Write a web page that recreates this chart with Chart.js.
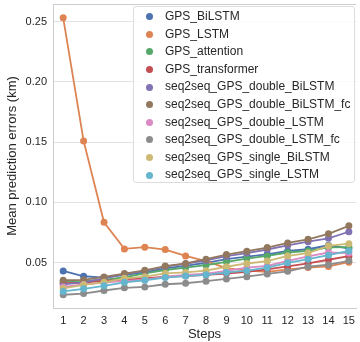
<!DOCTYPE html>
<html>
<head>
<meta charset="utf-8">
<script src="https://cdn.jsdelivr.net/npm/chart.js@4.4.1/dist/chart.umd.min.js"></script>
<style>
  body { margin: 0; background: #fff; overflow: hidden; }
  #wrap { position: relative; width: 360px; height: 342px; }
  #legend {
    position: absolute; left: 133px; top: 6px; width: 222px; height: 177px;
    border: 1px solid #dddddd; border-radius: 3px; background: rgba(255,255,255,0.85);
    font-family: "Liberation Sans", Arial, sans-serif; font-size: 12px; color: #262626;
    box-sizing: border-box; padding-top: 1px;
  }
  .row { height: 17.6px; line-height: 17.6px; white-space: nowrap; position: relative; }
  .dot { position: absolute; left: 12px; top: 5.3px; width: 7px; height: 7px; border-radius: 50%; }
  .lbl { position: absolute; left: 31px; }
</style>
</head>
<body>
<div id="wrap">
  <canvas id="myChart" width="360" height="342"></canvas>
  <div id="legend"></div>
</div>
<script>
const steps = [1, 2, 3, 4, 5, 6, 7, 8, 9, 10, 11, 12, 13, 14, 15];
const yTicks = [0.05, 0.10, 0.15, 0.20, 0.25];

const seriesNames = [
  'GPS_BiLSTM', 'GPS_LSTM', 'GPS_attention', 'GPS_transformer',
  'seq2seq_GPS_double_BiLSTM', 'seq2seq_GPS_double_BiLSTM_fc',
  'seq2seq_GPS_double_LSTM', 'seq2seq_GPS_double_LSTM_fc',
  'seq2seq_GPS_single_BiLSTM', 'seq2seq_GPS_single_LSTM'
];
const colors = ['#4C72B0', '#DD8452', '#55A868', '#C44E52', '#8172B3',
                '#937860', '#DA8BC3', '#8C8C8C', '#CCB974', '#64B5CD'];

const gpsBiLSTM      = [0.0432, 0.0388, 0.0377, 0.0400, 0.0420, 0.0453, 0.0475, 0.0500, 0.0530, 0.0550, 0.0570, 0.0598, 0.0612, 0.0645, 0.0620];
const gpsLSTM        = [0.2530, 0.1510, 0.0836, 0.0615, 0.0629, 0.0609, 0.0557, 0.0514, 0.0455, 0.0435, 0.0425, 0.0445, 0.0460, 0.0470, 0.0505];
const gpsAttention   = [0.0345, 0.0350, 0.0358, 0.0380, 0.0412, 0.0440, 0.0459, 0.0481, 0.0508, 0.0535, 0.0557, 0.0585, 0.0598, 0.0627, 0.0630];
const gpsTransformer = [0.0330, 0.0335, 0.0350, 0.0360, 0.0370, 0.0385, 0.0390, 0.0400, 0.0410, 0.0425, 0.0445, 0.0470, 0.0495, 0.0525, 0.0555];
const dblBiLSTM      = [0.0320, 0.0338, 0.0370, 0.0405, 0.0432, 0.0468, 0.0490, 0.0519, 0.0555, 0.0580, 0.0610, 0.0645, 0.0675, 0.0703, 0.0757];
const dblBiLSTMfc    = [0.0355, 0.0358, 0.0383, 0.0410, 0.0437, 0.0473, 0.0494, 0.0530, 0.0568, 0.0596, 0.0626, 0.0664, 0.0694, 0.0740, 0.0806];
const dblLSTM        = [0.0300, 0.0320, 0.0335, 0.0350, 0.0358, 0.0385, 0.0400, 0.0410, 0.0432, 0.0459, 0.0475, 0.0516, 0.0552, 0.0585, 0.0580];
const dblLSTMfc      = [0.0235, 0.0245, 0.0270, 0.0292, 0.0300, 0.0322, 0.0330, 0.0347, 0.0366, 0.0385, 0.0407, 0.0429, 0.0467, 0.0484, 0.0516];
const sglBiLSTM      = [0.0287, 0.0317, 0.0338, 0.0371, 0.0385, 0.0412, 0.0420, 0.0434, 0.0467, 0.0494, 0.0514, 0.0557, 0.0580, 0.0640, 0.0658];
const sglLSTM        = [0.0262, 0.0284, 0.0309, 0.0338, 0.0355, 0.0377, 0.0390, 0.0400, 0.0420, 0.0434, 0.0459, 0.0500, 0.0530, 0.0563, 0.0598];

const allSeries = [gpsBiLSTM, gpsLSTM, gpsAttention, gpsTransformer, dblBiLSTM,
                   dblBiLSTMfc, dblLSTM, dblLSTMfc, sglBiLSTM, sglLSTM];

const font = "'Liberation Sans', Arial, sans-serif";
const textColor = '#262626';

const datasets = allSeries.map((vals, i) => ({
  label: seriesNames[i],
  data: vals.map((v, j) => ({ x: steps[j], y: v })),
  borderColor: colors[i],
  backgroundColor: colors[i],
  borderWidth: 1.8,
  pointRadius: 3.5,
  pointBorderWidth: 0,
  order: allSeries.length - i  // later series on top, like matplotlib
}));

const ctx = document.getElementById('myChart').getContext('2d');
const myChart = new Chart(ctx, {
  type: 'line',
  data: { datasets: datasets },
  options: {
    responsive: false,
    animation: false,
    layout: { padding: { top: 1, right: 0, left: 0, bottom: 0 } },
    plugins: { legend: { display: false }, tooltip: { enabled: false } },
    scales: {
      x: {
        type: 'linear', min: 0.5, max: 15.35,
        afterBuildTicks: s => { s.ticks = steps.map(v => ({ value: v })); },
        afterFit: s => { s.height = 34; s.paddingLeft = 0; s.paddingRight = 0; },
        grid: { display: false, drawTicks: false },
        border: { color: '#cccccc', width: 1 },
        ticks: { color: textColor, font: { family: font, size: 11 }, padding: 6, maxRotation: 0, autoSkip: false },
        title: { display: true, text: 'Steps', color: textColor, font: { family: font, size: 13 }, padding: { top: 0, bottom: 0 } }
      },
      y: {
        min: 0.0125, max: 0.2645,
        afterBuildTicks: s => { s.ticks = yTicks.map(v => ({ value: v })); },
        afterFit: s => { s.width = 53; s.paddingTop = 0; s.paddingBottom = 0; },
        grid: { color: '#e3e3e3', lineWidth: 1, drawTicks: false },
        border: { color: '#cccccc', width: 1 },
        ticks: { color: textColor, font: { family: font, size: 11 }, padding: 6, callback: v => v.toFixed(2) },
        title: { display: true, text: 'Mean prediction errors (km)', color: textColor, font: { family: font, size: 13 }, padding: { top: 5, bottom: 0 } }
      }
    }
  },
  plugins: [{
    id: 'topFrame',
    afterDraw(chart) {
      const a = chart.chartArea, c = chart.ctx;
      c.save();
      c.strokeStyle = '#cccccc';
      c.lineWidth = 1;
      c.beginPath();
      c.moveTo(a.left, a.top + 0.5);
      c.lineTo(a.right, a.top + 0.5);
      c.stroke();
      c.restore();
    }
  }]
});

// html legend built from the datasets
const legend = document.getElementById('legend');
myChart.data.datasets.forEach(ds => {
  const row = document.createElement('div');
  row.className = 'row';
  row.innerHTML = '<span class="dot" style="background:' + ds.borderColor + '"></span><span class="lbl">' + ds.label + '</span>';
  legend.appendChild(row);
});
</script>
</body>
</html>
